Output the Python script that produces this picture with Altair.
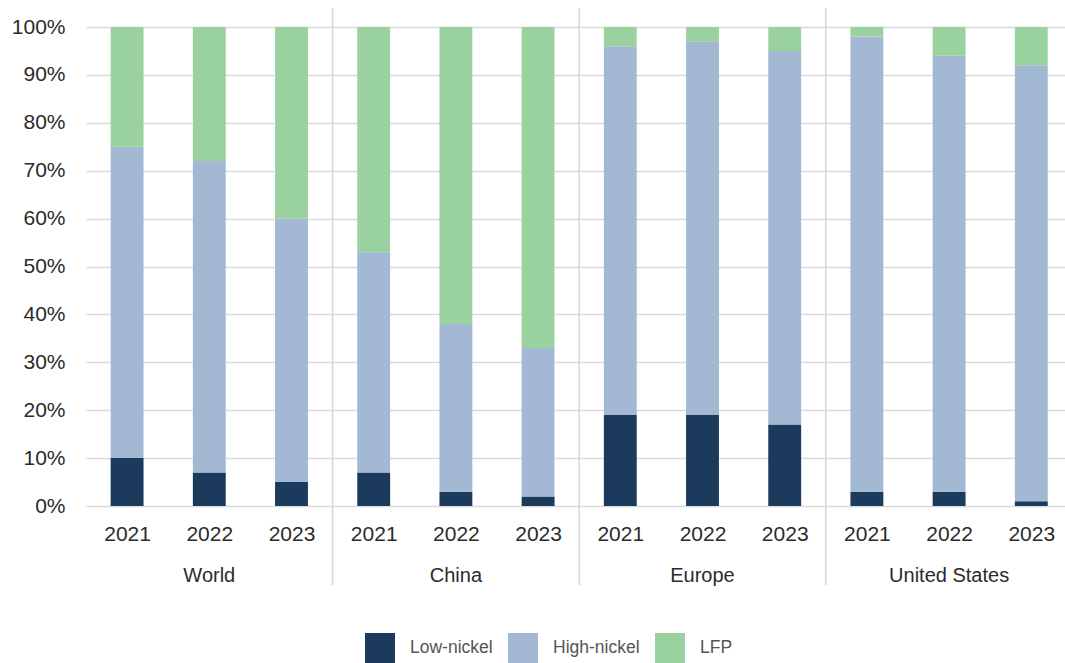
import altair as alt
import pandas as pd

# Battery cathode chemistry shares by region and year (percent of total)
regions = ["World", "China", "Europe", "United States"]
years = ["2021", "2022", "2023"]
chemistries = ["Low-nickel", "High-nickel", "LFP"]
low_nickel = [10, 7, 5, 7, 3, 2, 19, 19, 17, 3, 3, 1]
high_nickel = [65, 65, 55, 46, 35, 31, 77, 78, 78, 95, 91, 91]
lfp = [25, 28, 40, 47, 62, 67, 4, 3, 5, 2, 6, 8]
colors = ["#1b3a5c", "#a3b8d3", "#99d29e"]

FONT = "Liberation Sans"

rows = []
series = [low_nickel, high_nickel, lfp]
pos = 0
for r in regions:
    for y in years:
        for k, name in enumerate(chemistries):
            rows.append({"pos": pos, "region": r, "year": y, "chem": name,
                         "order": k, "share": series[k][pos] / 100})
        pos += 1
df = pd.DataFrame(rows)

region_df = pd.DataFrame({"region": regions,
                          "pos": [i * len(years) + 1 for i in range(len(regions))]})
sep_df = pd.DataFrame({"pos": [i * len(years) - 0.5 for i in range(1, len(regions))]})

xscale = alt.Scale(domain=[-0.5, 11.41], nice=False, zero=False, padding=0)
yscale = alt.Scale(domain=[0, 1], nice=False, padding=0)
year_list = "[" + ",".join(f"'{y}'" for y in years) + "]"

bars = alt.Chart(df).transform_stack(
    stack="share", as_=["y0", "y1"], groupby=["pos"],
    sort=[alt.SortField("order", order="ascending")],
).transform_calculate(
    x0="datum.pos - 0.2", x1="datum.pos + 0.2"
).mark_bar().encode(
    x=alt.X("x0:Q", scale=xscale, title=None,
            axis=alt.Axis(values=list(range(12)),
                          labelExpr=f"{year_list}[datum.value % 3]",
                          grid=False, ticks=False, domain=False,
                          labelFontSize=21, labelFont=FONT, labelColor="#2b2b2b",
                          labelPadding=17, labelFlush=False, labelOverlap=False)),
    x2="x1:Q",
    y=alt.Y("y0:Q", scale=yscale, title=None,
            axis=alt.Axis(values=[i / 10 for i in range(11)], format=".0%",
                          ticks=False, domain=False, labelFontSize=21,
                          labelFont=FONT, labelColor="#2b2b2b", labelPadding=21,
                          gridColor="#dadada", gridWidth=1.5)),
    y2="y1:Q",
    color=alt.Color("chem:N", scale=alt.Scale(domain=chemistries, range=colors),
                    legend=alt.Legend(orient="none", legendX=279, legendY=606,
                                      direction="horizontal", title=None,
                                      symbolType="square", symbolSize=900,
                                      symbolStrokeWidth=0, labelFontSize=17.5,
                                      labelFont=FONT, labelColor="#555555",
                                      labelOffset=15, columnPadding=15, padding=0)),
    order=alt.Order("order:Q"),
)

region_labels = alt.Chart(region_df).mark_text(
    fontSize=20, font=FONT, color="#2b2b2b", baseline="middle"
).encode(
    x=alt.X("pos:Q", scale=xscale),
    y=alt.value(549),
    text="region:N",
)

separators = alt.Chart(sep_df).mark_rule(color="#d6d6d6", strokeWidth=1.5).encode(
    x=alt.X("pos:Q", scale=xscale),
    y=alt.value(-19),
    y2=alt.value(558),
)

chart = alt.layer(separators, bars, region_labels).properties(
    width=979, height=479,
    autosize=alt.AutoSizeParams(type="none"),
    padding={"left": 86, "top": 27, "right": 0, "bottom": 157},
).configure_view(stroke=None)

chart.save("out.html", embed_options={"renderer": "svg", "actions": False})
